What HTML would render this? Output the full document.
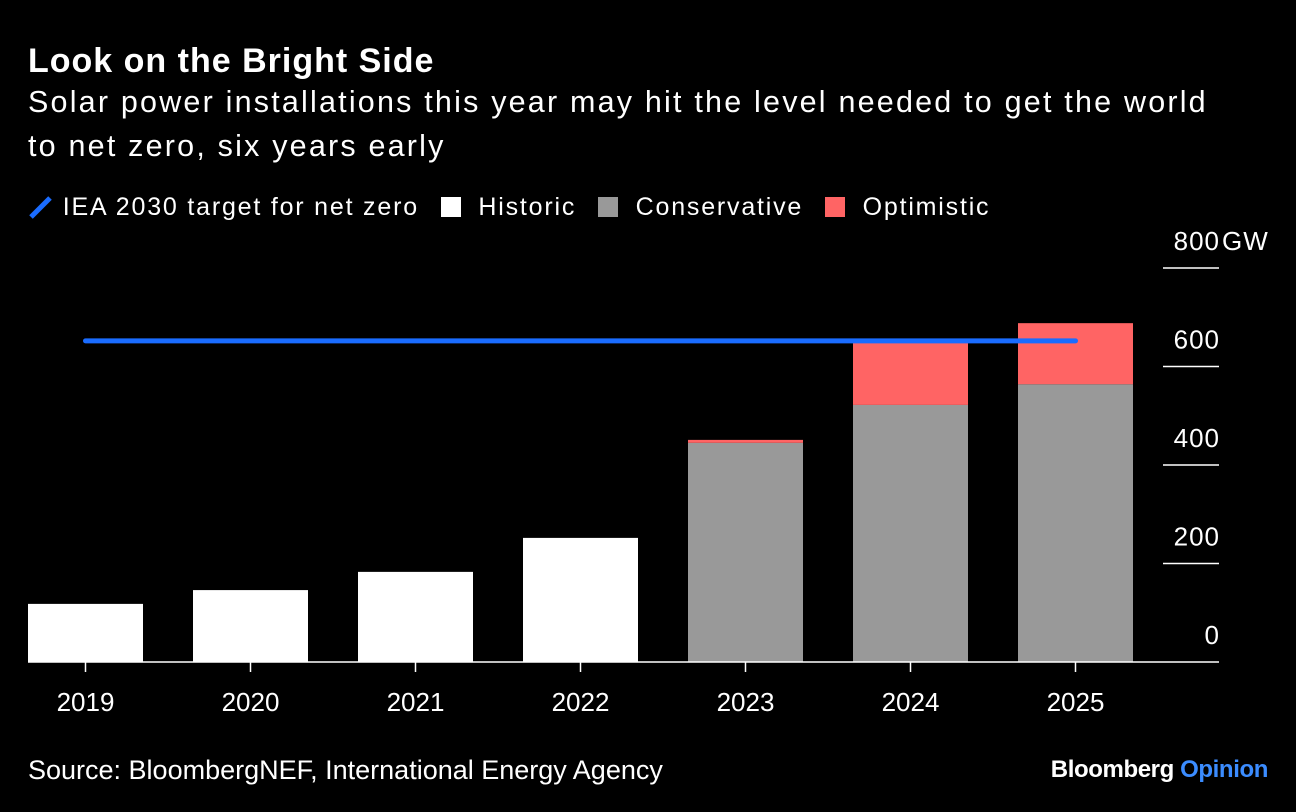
<!DOCTYPE html>
<html><head><meta charset="utf-8"><style>
body{margin:0;background:#000;width:1296px;height:812px;overflow:hidden;font-family:"Liberation Sans",sans-serif;color:#fff}
.t{position:absolute;white-space:nowrap}
</style></head><body>
<div class="t" style="left:28px;top:44px;font-size:34px;line-height:34px;font-weight:bold;letter-spacing:1px">Look on the Bright Side</div>
<div class="t" style="left:28px;top:80px;font-size:30.5px;line-height:44px;letter-spacing:2.2px">Solar power installations this year may hit the level needed to get the world<br>to net zero, six years early</div>
<div class="t" style="left:28px;top:194px;font-size:25px;line-height:25px;display:flex;align-items:center;letter-spacing:1.8px">
<span style="display:flex;align-items:center"><svg width="26" height="26"><line x1="3" y1="23" x2="22" y2="4" stroke="#1a6cff" stroke-width="5"/></svg>&nbsp;IEA 2030 target for net zero</span>
<span style="display:flex;align-items:center;margin-left:22px"><span style="width:20px;height:20px;background:#fff;display:inline-block"></span>&nbsp;&nbsp;Historic</span>
<span style="display:flex;align-items:center;margin-left:22px"><span style="width:20px;height:20px;background:#999;display:inline-block"></span>&nbsp;&nbsp;Conservative</span>
<span style="display:flex;align-items:center;margin-left:22px"><span style="width:20px;height:20px;background:#ff6464;display:inline-block"></span>&nbsp;&nbsp;Optimistic</span>
</div>
<svg id="chart" width="1296" height="812" style="position:absolute;left:0;top:0"></svg>
<div class="t" style="left:28px;top:757px;font-size:27px;line-height:27px">Source: BloombergNEF, International Energy Agency</div>
<div class="t" style="right:28px;top:758px;font-size:24px;line-height:24px;font-weight:bold;letter-spacing:-0.4px">Bloomberg <span style="color:#3b8cff">Opinion</span></div>
<script>
const years=["2019","2020","2021","2022","2023","2024","2025"];
const historic=[118,146,183,252,0,0,0];
const conservative=[0,0,0,0,445,522,564];
const optimistic=[0,0,0,0,6,126,124];
const target=652;
const ticks=[0,200,400,600,800];
const NS="http://www.w3.org/2000/svg";
const svg=document.getElementById('chart');
const y0=662,k=(662-268)/800;
const y=v=>y0-v*k;
const x=i=>85.5+165*i;
const bw=115;
function mk(t,a){const e=document.createElementNS(NS,t);for(const n in a)e.setAttribute(n,a[n]);svg.appendChild(e);return e;}
ticks.forEach(v=>{
 if(v>0){const l=mk('line',{x1:1163,x2:1219,y1:y(v),y2:y(v),stroke:'#fff','stroke-width':1.5});
 
 }
 const t=mk('text',{x:1220,y:y(v)-18,'text-anchor':'end',fill:'#fff','font-size':26,'letter-spacing':1,'font-family':'Liberation Sans'});
 t.textContent=v;
 
 
 if(v===800){const g=mk('text',{x:1222,y:y(v)-18,fill:'#fff','font-size':26,'letter-spacing':1,'font-family':'Liberation Sans'});g.textContent='GW';
 
 }
});
years.forEach((yr,i)=>{
 const cx=x(i);
 if(historic[i]>0){const r=mk('rect',{x:cx-bw/2,y:y(historic[i]),width:bw,height:historic[i]*k,fill:'#fff'});
 
 }
 if(conservative[i]>0){const r=mk('rect',{x:cx-bw/2,y:y(conservative[i]),width:bw,height:conservative[i]*k,fill:'#999'});
 
 }
 if(optimistic[i]>0){const r=mk('rect',{x:cx-bw/2,y:y(conservative[i]+optimistic[i]),width:bw,height:optimistic[i]*k,fill:'#ff6464'});
 
 }
 const tk=mk('line',{x1:cx,x2:cx,y1:662,y2:672,stroke:'#fff','stroke-width':1.5});
 
 
 const t=mk('text',{x:cx,y:711,'text-anchor':'middle',fill:'#fff','font-size':26,'font-family':'Liberation Sans'});
 t.textContent=yr;
 
 
});
const ax=mk('line',{x1:28,x2:1219,y1:662,y2:662,stroke:'#fff','stroke-width':1.5});


const tl=mk('line',{x1:x(0),x2:x(years.length-1),y1:y(target),y2:y(target),stroke:'#1a6cff','stroke-width':5,'stroke-linecap':'round'});


</script>
</body></html>
